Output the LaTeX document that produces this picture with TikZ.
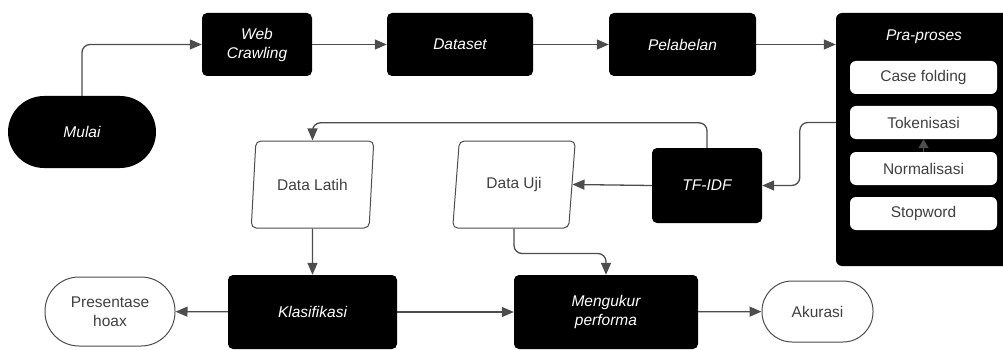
\documentclass[tikz,border=0pt]{standalone}
\usepackage{fontspec}
\setmainfont{Liberation Sans}
\usetikzlibrary{shapes.geometric, arrows.meta}
\definecolor{garis}{HTML}{4D4D4D}

\begin{document}
\begin{tikzpicture}[x=1pt, y=-1pt, >={Triangle[length=12pt,width=10pt]},
	every node/.style={font=\fontsize{15.5}{19}\selectfont},
	proses/.style={fill=black, text=white, rounded corners=5pt, align=center, font=\fontsize{15.5}{19}\selectfont\itshape},
	ujung/.style={draw=garis, line width=1pt, fill=white, text=black!75, align=center},
	databox/.style={trapezium, trapezium left angle=80, trapezium right angle=100, trapezium stretches=true, draw=garis, line width=1pt, rounded corners=5pt, text=black!75, minimum width=123pt, minimum height=87pt},
	subbox/.style={fill=white, rounded corners=6pt, text=black!75, minimum width=147pt, minimum height=33pt},
	panah/.style={->, draw=garis, line width=1.3pt, rounded corners=8pt}]
	\useasboundingbox (0,0) rectangle (1003,350);
	% baris atas
	\node[proses, minimum width=148pt, minimum height=72pt, rounded corners=36pt] (mulai) at (82,132) {Mulai};
	\node[proses, minimum width=110pt, minimum height=63pt] (crawling) at (257,44.5) {Web\\Crawling};
	\node[proses, minimum width=146pt, minimum height=63pt] (dataset) at (460,44.5) {Dataset};
	\node[proses, minimum width=147pt, minimum height=63pt] (pelabelan) at (682.5,44.5) {Pelabelan};
	% pra-proses
	\node[proses, minimum width=180pt, minimum height=253pt, rounded corners=6pt] (praproses) at (926,139.5) {};
	\node[proses, fill=none] (prajudul) at (924,37) {Pra-proses};
	\node[subbox] (casefolding) at (923.5,77.5) {Case folding};
	\node[subbox] (tokenisasi) at (923.5,122.5) {Tokenisasi};
	\node[subbox] (normalisasi) at (923.5,168.5) {Normalisasi};
	\node[subbox] (stopword) at (923.5,213.5) {Stopword};
	% tengah
	\node[proses, minimum width=110pt, minimum height=75pt] (tfidf) at (707,185.5) {TF-IDF};
	\node[databox] (datalatih) at (312.5,184.5) {Data Latih};
	\node[databox] (datauji) at (514,184.5) {Data Uji};
	% baris bawah
	\node[proses, minimum width=169pt, minimum height=74pt] (klasifikasi) at (312.5,312) {Klasifikasi};
	\node[proses, minimum width=184pt, minimum height=74pt] (mengukur) at (606,312) {Mengukur\\performa};
	\node[ujung, minimum width=130pt, minimum height=69pt, rounded corners=34pt] (presentase) at (110,311.5) {Presentase\\hoax};
	\node[ujung, minimum width=111pt, minimum height=61pt, rounded corners=30pt] (akurasi) at (817.5,311.5) {Akurasi};
	% panah
	\draw[panah] (mulai.north) |- (crawling.west);
	\draw[panah] (crawling) -- (dataset);
	\draw[panah] (dataset) -- (pelabelan);
	\draw[panah] (pelabelan.east) -- (pelabelan.east -| praproses.west);
	\draw[->, draw=garis, line width=1.5pt, >={Triangle[length=9pt,width=10pt]}] (normalisasi.north) -- (tokenisasi.south);
	\draw[panah] (praproses.west |- tokenisasi.center) -- ++(-36,0) |- (tfidf.east);
	\draw[panah] (tfidf.north) -- ++(0,-25) -| (datalatih.north);
	\draw[panah] (tfidf.west) -- (datauji.east);
	\draw[panah] (datalatih) -- (klasifikasi);
	\draw[panah] (datauji.south) -- ++(0,25) -| (mengukur.north);
	\draw[panah] (klasifikasi) -- (presentase);
	\draw[panah] (klasifikasi) -- (mengukur);
	\draw[panah] (mengukur) -- (akurasi);
\end{tikzpicture}
\end{document}
